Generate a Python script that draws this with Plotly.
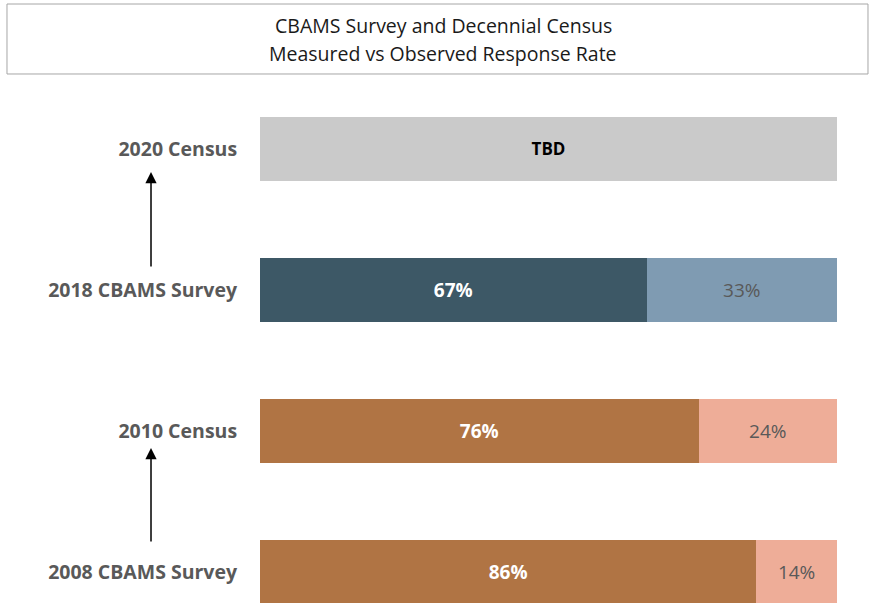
import plotly.graph_objects as go

categories = ["2008 CBAMS Survey", "2010 Census", "2018 CBAMS Survey", "2020 Census"]
positions = [0, 1, 2, 3]
measured = [86, 76, 67]
remaining = [14, 24, 33]
tbd_value = [100]
measured_colors = ["#B07444", "#B07444", "#3D5866"]
remaining_colors = ["#EEAD98", "#EEAD98", "#7F9BB2"]
title_lines = ["CBAMS Survey and Decennial Census", "Measured vs Observed Response Rate"]

FONT = "Open Sans"
BAR_W = 0.454

fig = go.Figure()
fig.add_trace(go.Bar(
    y=positions[:3], x=measured, orientation="h", width=BAR_W,
    marker=dict(color=measured_colors, line=dict(width=0)),
    text=[f"<b>{v}%</b>" for v in measured], textposition="inside",
    insidetextanchor="middle", textangle=0,
    textfont=dict(family=FONT, size=19, color="white"),
    hoverinfo="skip"))
fig.add_trace(go.Bar(
    y=positions[:3], x=remaining, orientation="h", width=BAR_W,
    marker=dict(color=remaining_colors, line=dict(width=0)),
    text=[f"{v}%" for v in remaining], textposition="inside",
    insidetextanchor="middle", textangle=0,
    textfont=dict(family=FONT, size=19, color="#595959"),
    hoverinfo="skip"))
fig.add_trace(go.Bar(
    y=positions[3:], x=tbd_value, orientation="h", width=BAR_W,
    marker=dict(color="#CACACA", line=dict(width=0)),
    text=["<b>TBD</b>"], textposition="inside",
    insidetextanchor="middle", textangle=0,
    textfont=dict(family=FONT, size=17, color="black"),
    hoverinfo="skip"))

fig.update_layout(
    width=871, height=603, barmode="stack", showlegend=False,
    paper_bgcolor="white", plot_bgcolor="white",
    margin=dict(l=260, r=34, t=80, b=0),
    xaxis=dict(range=[0, 100], visible=False, fixedrange=True),
    yaxis=dict(range=[-0.2199, 3.489], tickvals=positions, ticktext=[f"<b>{c}</b>" for c in categories],
               showgrid=False, zeroline=False, showline=False, fixedrange=True,
               ticks="outside", ticklen=18, tickcolor="rgba(0,0,0,0)",
               tickfont=dict(family=FONT, size=19.5, color="#595959")),
    uniformtext=dict(mode=False),
)

# title box
fig.add_shape(type="rect", xref="paper", yref="paper",
              x0=-0.4385, x1=1.0537, y0=1.0115, y1=1.1453,
              line=dict(color="#A6A6A6", width=1), fillcolor="white")
for line, ypix in zip(title_lines, [25, 53]):
    fig.add_annotation(xref="paper", yref="paper", x=(443 - 260) / 577, y=(603 - ypix) / 523,
                       text=line, showarrow=False, xanchor="center", yanchor="middle",
                       font=dict(family=FONT, size=19.5, color="#1a1a1a"))

# arrows
for head_y, length in [(2.837, 96), (0.879, 95)]:
    fig.add_annotation(xref="paper", yref="y", x=-0.1889, y=head_y, ax=0, ay=length,
                       axref="pixel", ayref="pixel", text="", showarrow=True,
                       arrowhead=2, arrowsize=1.5, arrowwidth=1.5, arrowcolor="black")

fig.write_html("out.html", config={"displayModeBar": False},
               post_script="document.body.style.margin='0';")
